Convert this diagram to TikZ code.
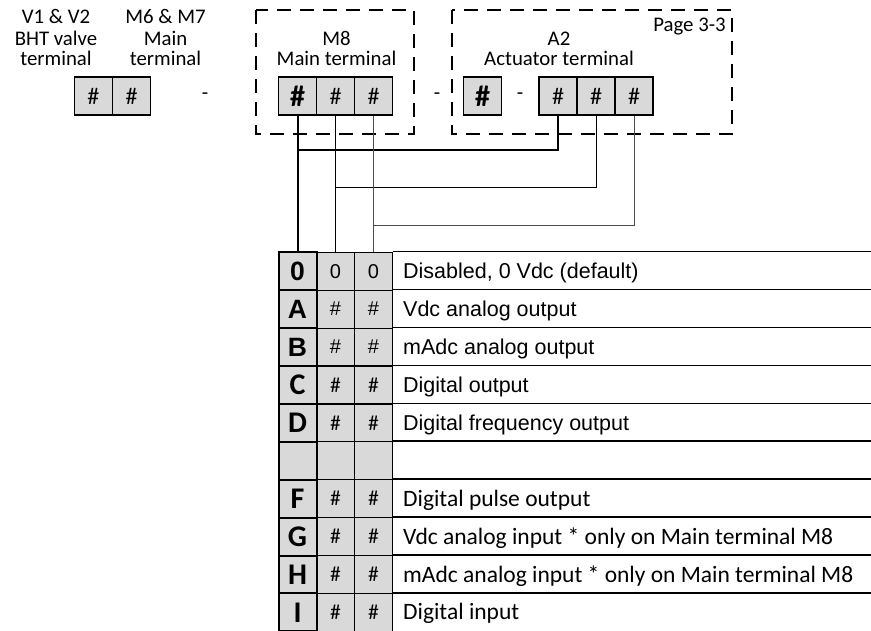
\documentclass[tikz,border=0pt]{standalone}
\usepackage{fontspec}
\setmainfont{Carlito}
\newfontfamily\arial{Liberation Sans}
\definecolor{cellgray}{HTML}{D9D9D9}
\newcommand\fA{\arial\fontsize{21.5}{22}\selectfont}
\newcommand\fAv{\arial\fontsize{20}{20}\selectfont}
\newcommand\fAl{\arial\bfseries\fontsize{26.5}{26.5}\selectfont}
\newcommand\fC{\fontsize{23.5}{24}\selectfont}
\newcommand\fCv{\fontsize{21.5}{22}\selectfont}
\newcommand\fCl{\bfseries\fontsize{30}{30}\selectfont}
\newcommand\fT{\fontsize{20.8}{21}\selectfont}
\newcommand\trow[7]{%
  \pgfmathsetmacro\yc{252.3+37.9*#1+18.95}
  \node[vcell,font=#6] (P#1) at (335.5,\yc) {#3};
  \node[vcell,font=#6] (Q#1) at (373.5,\yc) {#3};
  \node[lcell,font=#5] (L#1) at (297.5,\yc) {#2};
  \draw[gridline] (Q#1.north east) -- ++(478.5,0);
  \node[desc,font=#7] (D#1) at (403,\yc+7.6) {#4};
}
\tikzset{
  lbl/.style={anchor=base, inner sep=0pt, font=\fT},
  tcell/.style={draw=black, fill=cellgray, line width=1.5pt, minimum width=38pt, minimum height=38pt, inner sep=0pt, font=\fontsize{24}{24}\selectfont},
  bcell/.style={tcell, font=\fontsize{30}{30}\selectfont\bfseries},
  dashbox/.style={draw=black, line width=2pt, dash pattern=on 14pt off 9pt},
  vcell/.style={draw=black, fill=cellgray, line width=1.2pt, minimum width=38pt, minimum height=37.9pt, inner sep=0pt},
  lcell/.style={vcell, line width=2pt},
  gridline/.style={draw=black, line width=1.5pt},
  desc/.style={anchor=base west, inner sep=0pt},
  sep/.style={font=\fT, inner sep=0pt},
  wire/.style={draw=black, line width=1pt},
}
\begin{document}
\begin{tikzpicture}[x=1pt,y=-1pt]
\useasboundingbox (0,0) rectangle (871,630);
% labels
\node[lbl] (v1a) at (56,23) {V1 \& V2};
\node[lbl] (v1b) at (56,45.5) {BHT valve};
\node[lbl] (v1c) at (56,65.5) {terminal};
\node[lbl] (m6a) at (165.5,23) {M6 \& M7};
\node[lbl] (m6b) at (165.5,45.5) {Main};
\node[lbl] (m6c) at (165.5,65.5) {terminal};
\node[lbl] (m8l1) at (336.5,45) {M8};
\node[lbl] (m8l2) at (336.5,65) {Main terminal};
\node[lbl] (a2l1) at (559,45) {A2};
\node[lbl] (a2l2) at (559,65) {Actuator terminal};
\node[lbl] (pg) at (689.5,31) {Page 3-3};
% dashed boxes
\draw[dashbox] (256,10) rectangle (414,134);
\draw[dashbox] (452,10) rectangle (732,134);
% top terminals
\node[tcell] (v1) at (93.3,96) {\#};
\node[tcell] (m6) at (131.6,96) {\#};
\node[sep] (s1) at (205,96) {-};
\node[bcell] (m8a) at (297.5,96) {\#};
\node[tcell] (m8b) at (335.5,96) {\#};
\node[tcell] (m8c) at (373.5,96) {\#};
\node[sep] (s2) at (437,96) {-};
\node[bcell] (a2a) at (482.5,96) {\#};
\node[sep] (s3) at (520,96) {-};
\node[tcell] (a2b) at (558,96) {\#};
\node[tcell] (a2c) at (596,96) {\#};
\node[tcell] (a2d) at (634,96) {\#};
% table
\trow{0}{0}{0}{Disabled, 0 Vdc (default)}{\fAl}{\fAv}{\fA}
\trow{1}{A}{\#}{Vdc analog output}{\fAl}{\fAv}{\fA}
\trow{2}{B}{\#}{mAdc analog output}{\fAl}{\fAv}{\fA}
\trow{3}{C}{\#}{Digital output}{\fCl}{\fCv}{\fA}
\trow{4}{D}{\#}{Digital frequency output}{\fCl}{\fCv}{\fA}
\trow{5}{}{}{}{\fCl}{\fCv}{\fC}
\trow{6}{F}{\#}{Digital pulse output}{\fCl}{\fCv}{\fC}
\trow{7}{G}{\#}{Vdc analog input * only on Main terminal M8}{\fCl}{\fCv}{\fC}
\trow{8}{H}{\#}{mAdc analog input * only on Main terminal M8}{\fCl}{\fCv}{\fC}
\trow{9}{I}{\#}{Digital input}{\fCl}{\fCv}{\fC}
% wires
\coordinate (j1) at (297.5,150);
\coordinate (j2) at (335.5,187.3);
\coordinate (j3) at (373.5,225);
\draw[wire, line width=2pt] (m8a.south) -- (L0.north);
\draw[wire, line width=2pt] (a2b.south) |- (j1);
\draw[wire] (m8b.south) -- (P0.north);
\draw[wire] (a2c.south) |- (j2);
\draw[wire, draw=black!70] (m8c.south) -- (Q0.north);
\draw[wire, draw=black!70] (a2d.south) |- (j3);
\end{tikzpicture}
\end{document}
